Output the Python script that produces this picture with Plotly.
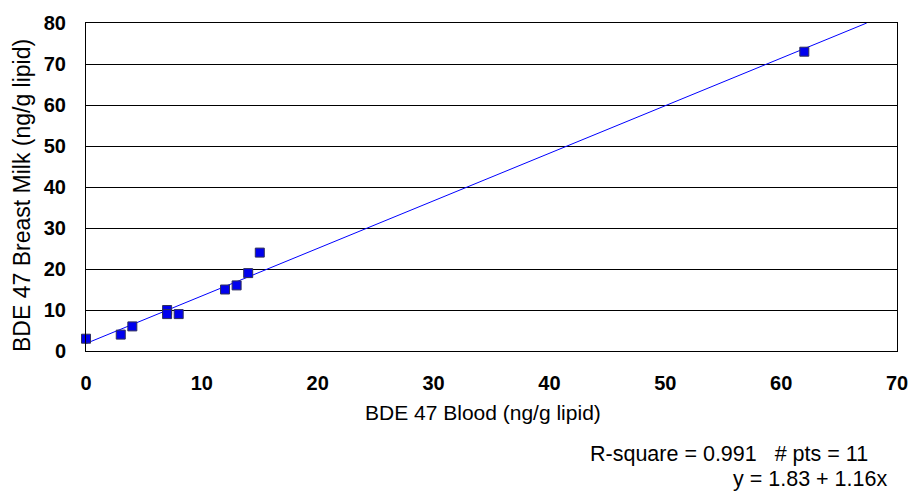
import plotly.graph_objects as go

blood = [0, 3, 4, 7, 7, 8, 12, 13, 14, 15, 62]
milk = [3, 4, 6, 10, 9, 9, 15, 16, 19, 24, 73]
intercept = 1.83
slope = 1.16
fit_x = [0, (80 - intercept) / slope]
fit_y = [intercept + slope * v for v in fit_x]
x_ticks = [0, 10, 20, 30, 40, 50, 60, 70]
y_ticks = [0, 10, 20, 30, 40, 50, 60, 70, 80]

L, R, T, B = 86, 15, 18, 143
PW, PH = 920 - L - R, 494 - T - B


def px(xp):
    return (xp - L) / PW


def py(yp):
    return (494 - B - yp) / PH


fig = go.Figure()
fig.add_trace(go.Scatter(x=fit_x, y=fit_y, mode="lines",
                         line=dict(color="#0000ff", width=1), showlegend=False))
fig.add_trace(go.Scatter(x=blood, y=milk, mode="markers",
                         marker=dict(symbol="square", size=9, color="#0000ee",
                                     line=dict(color="#30305a", width=1)),
                         showlegend=False, cliponaxis=False))

font = "Liberation Sans, Arial, sans-serif"
fig.update_layout(
    width=920, height=494,
    margin=dict(l=L, r=R, t=T, b=B),
    paper_bgcolor="white", plot_bgcolor="white",
    font=dict(family=font, color="black", size=21),
    xaxis=dict(range=[0, 70], tickvals=x_ticks, showgrid=False, zeroline=False,
               showline=True, linecolor="black", linewidth=1, mirror=True,
               ticks="", ticklabelstandoff=14,
               tickfont=dict(family=font, size=20, color="black", weight="bold")),
    yaxis=dict(range=[0, 80], tickvals=y_ticks, showgrid=True, gridcolor="black",
               gridwidth=1, zeroline=False,
               showline=True, linecolor="black", linewidth=1, mirror=True,
               ticks="", ticklabelstandoff=15,
               tickfont=dict(family=font, size=20, color="black", weight="bold")),
    annotations=[
        dict(text="BDE 47 Blood (ng/g lipid)", xref="paper", yref="paper",
             x=px(487), y=py(413), xanchor="center", yanchor="middle",
             showarrow=False, font=dict(family=font, size=21)),
        dict(text="BDE 47 Breast Milk (ng/g lipid)", xref="paper", yref="paper",
             x=px(22), y=py(193), xanchor="center", yanchor="middle", textangle=-90,
             showarrow=False, font=dict(family=font, size=23)),
        dict(text="R-square = 0.991&nbsp;&nbsp;&nbsp;# pts = 11", xref="paper", yref="paper",
             x=px(593), y=py(456), xanchor="left", yanchor="middle",
             showarrow=False, font=dict(family=font, size=21.5)),
        dict(text="y = 1.83 + 1.16x", xref="paper", yref="paper",
             x=px(737), y=py(481), xanchor="left", yanchor="middle",
             showarrow=False, font=dict(family=font, size=21.5)),
    ],
)
fig.write_html("out.html")
